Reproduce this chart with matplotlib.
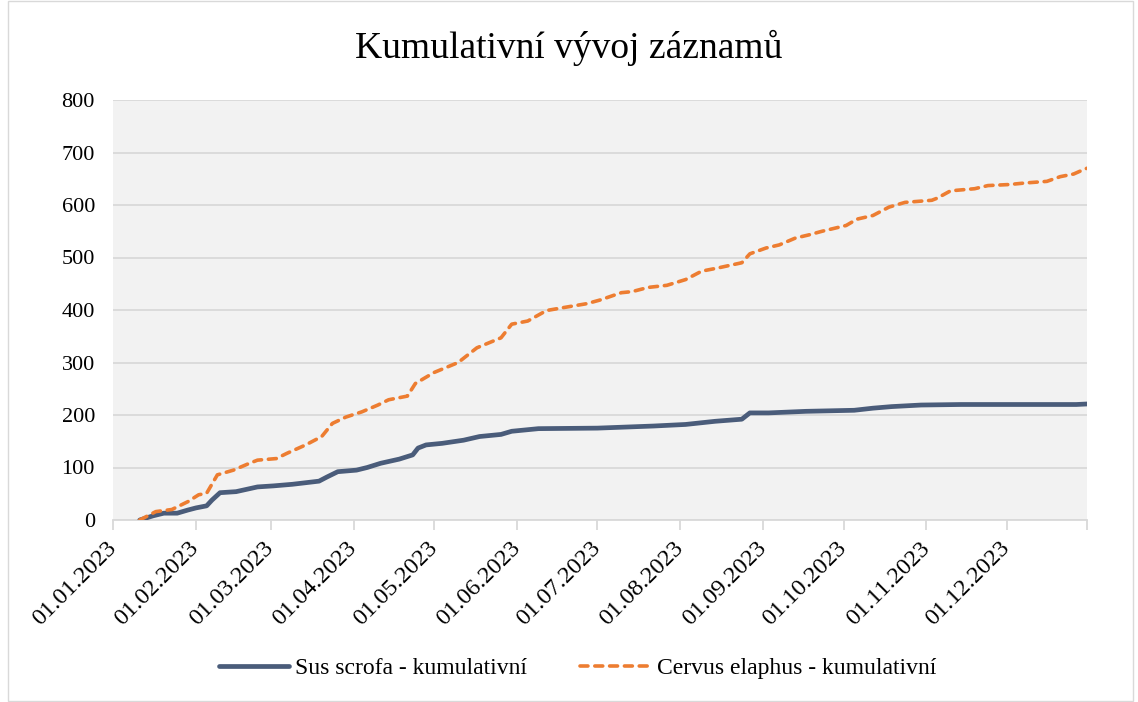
import matplotlib

matplotlib.use("Agg")
import matplotlib.pyplot as plt
from matplotlib.patches import Rectangle
import pandas as pd

# Sus scrofa - cumulative records
sus_dates = [
    "2023-01-11", "2023-01-16", "2023-01-20", "2023-01-25", "2023-01-29", "2023-02-01",
    "2023-02-05", "2023-02-07", "2023-02-10", "2023-02-16", "2023-02-24", "2023-03-02",
    "2023-03-09", "2023-03-19", "2023-03-22", "2023-03-26", "2023-04-02", "2023-04-06",
    "2023-04-11", "2023-04-18", "2023-04-23", "2023-04-25", "2023-04-28", "2023-05-04",
    "2023-05-12", "2023-05-18", "2023-05-26", "2023-05-30", "2023-06-09", "2023-07-01",
    "2023-07-22", "2023-08-03", "2023-08-14", "2023-08-24", "2023-08-27", "2023-09-03",
    "2023-09-17", "2023-10-05", "2023-10-12", "2023-10-19", "2023-10-30", "2023-11-14",
    "2023-12-27", "2023-12-31",
]
sus_values = [
    0, 8, 13, 13, 19, 23,
    27, 38, 52, 54, 63, 65,
    68, 74, 82, 92, 95, 100,
    108, 116, 124, 137, 143, 146,
    152, 159, 163, 169, 174, 175,
    179, 182, 188, 192, 204, 204,
    207, 209, 213, 216, 219, 220,
    220, 221,
]

# Cervus elaphus - cumulative records
cervus_dates = [
    "2023-01-11", "2023-01-17", "2023-01-23", "2023-01-29", "2023-02-02", "2023-02-05",
    "2023-02-09", "2023-02-15", "2023-02-21", "2023-02-24", "2023-03-03", "2023-03-07",
    "2023-03-14", "2023-03-20", "2023-03-24", "2023-03-29", "2023-04-04", "2023-04-10",
    "2023-04-14", "2023-04-21", "2023-04-24", "2023-05-01", "2023-05-10", "2023-05-17",
    "2023-05-26", "2023-05-30", "2023-06-05", "2023-06-12", "2023-06-20", "2023-06-27",
    "2023-07-02", "2023-07-10", "2023-07-14", "2023-07-20", "2023-07-27", "2023-08-03",
    "2023-08-09", "2023-08-15", "2023-08-24", "2023-08-27", "2023-09-02", "2023-09-07",
    "2023-09-13", "2023-09-18", "2023-09-23", "2023-10-02", "2023-10-06", "2023-10-12",
    "2023-10-18", "2023-10-24", "2023-11-03", "2023-11-05", "2023-11-10", "2023-11-19",
    "2023-11-24", "2023-12-02", "2023-12-08", "2023-12-16", "2023-12-21", "2023-12-26",
    "2023-12-30", "2023-12-31",
]
cervus_values = [
    0, 16, 20, 35, 48, 51,
    86, 95, 108, 114, 117, 127,
    143, 159, 184, 196, 206, 219,
    229, 236, 260, 281, 300, 328,
    347, 373, 379, 399, 406, 412,
    419, 433, 435, 443, 447, 458,
    474, 480, 490, 507, 518, 524,
    537, 543, 550, 561, 573, 580,
    596, 605, 609, 613, 627, 631,
    637, 639, 642, 645, 654, 659,
    668, 670,
]

title = "Kumulativní vývoj záznamů"
sus_label = "Sus scrofa - kumulativní"
cervus_label = "Cervus elaphus - kumulativní"
y_ticks = [0, 100, 200, 300, 400, 500, 600, 700, 800]

SUS_COLOR = "#4A5C7A"
CERVUS_COLOR = "#ED7D31"
GRID = "#D9D9D9"

plt.rcParams["font.family"] = ["Liberation Serif", "DejaVu Serif"]

fig = plt.figure(figsize=(11.38, 7.02), dpi=100)
ax = fig.add_axes([113 / 1138, 1 - 520 / 702, (1087 - 113) / 1138, 420 / 702])
ax.set_facecolor("#F2F2F2")

ax.plot(pd.to_datetime(sus_dates), sus_values, color=SUS_COLOR, lw=3.4,
        solid_capstyle="round", solid_joinstyle="round", label=sus_label, zorder=3)
ax.plot(pd.to_datetime(cervus_dates), cervus_values, color=CERVUS_COLOR, lw=2.6,
        linestyle=(0, (2.2, 1.9)), dash_capstyle="round", label=cervus_label, zorder=4)

start, end = pd.Timestamp("2023-01-01"), pd.Timestamp("2023-12-31")
ax.set_xlim(start, end)
ax.set_ylim(0, 800)
ax.set_yticks(y_ticks)
ax.yaxis.grid(True, color=GRID, lw=1.3)
ax.set_axisbelow(True)

months = list(pd.date_range(start, periods=12, freq="MS"))
ax.set_xticks(months + [end])
ax.set_xticklabels([m.strftime("%d.%m.%Y") for m in months] + [""],
                   rotation=45, ha="right", va="center", rotation_mode="anchor")
ax.tick_params(axis="x", length=7, color=GRID, width=1.3, pad=11, labelsize=17.5)
ax.tick_params(axis="y", length=0, pad=13, labelsize=16)

for side in ("top", "right", "left"):
    ax.spines[side].set_visible(False)
ax.spines["bottom"].set_color(GRID)
ax.spines["bottom"].set_linewidth(1.3)

fig.text(0.5, 1 - 48 / 702, title, ha="center", va="center", fontsize=27)

fig.legend(loc="center", bbox_to_anchor=(0.5075, 1 - 668 / 702), ncol=2, frameon=False,
           fontsize=17, handlelength=3.0, columnspacing=2.25, handletextpad=0.25)

fig.patches.append(Rectangle((8 / 1138, 0.002), 1125 / 1138, 0.996, transform=fig.transFigure,
                             fill=False, edgecolor=GRID, lw=1.0))

fig.savefig("out.png", dpi=100)
